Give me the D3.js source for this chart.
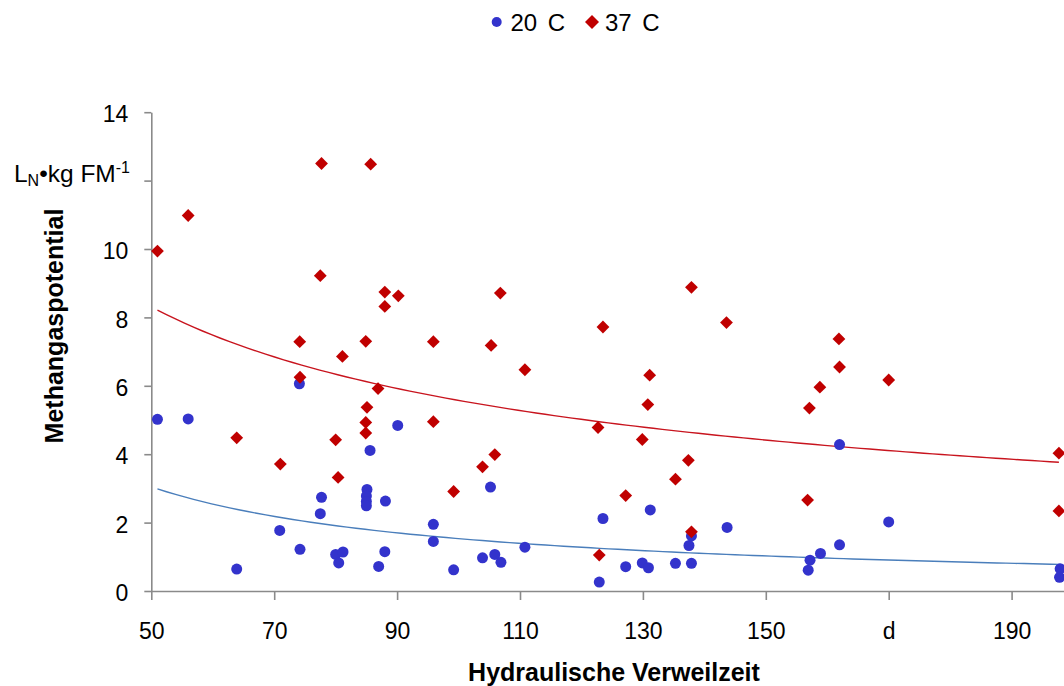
<!DOCTYPE html>
<html>
<head>
<meta charset="utf-8">
<script src="https://cdn.jsdelivr.net/npm/d3@7/dist/d3.min.js"></script>
<style>
  html, body { margin: 0; padding: 0; background: #fff; }
  svg { display: block; font-family: "Liberation Sans", Arial, sans-serif; }
</style>
</head>
<body>
<svg id="chart" width="1064" height="686"></svg>
<script>
// ---- data ----
const seriesNames = ["20 C", "37 C"];
const x20 = [51.0, 56.0, 74.1, 90.1, 85.6, 63.9, 70.9, 74.2, 77.7, 77.5, 80.0, 81.2, 80.5, 85.1, 85.0, 85.0, 85.0, 88.1, 87.0, 88.0,
             95.9, 95.9, 99.2, 105.2, 103.9, 105.9, 106.9, 110.8, 123.5, 122.9, 127.2, 129.9, 130.9, 131.2, 135.3, 137.9, 137.5, 137.9,
             143.7, 162.0, 170.0, 162.0, 158.9, 157.2, 156.9, 197.9, 197.8];
const y20 = [5.02, 5.03, 6.06, 4.84, 4.11, 0.64, 1.77, 1.22, 2.74, 2.26, 1.07, 1.14, 0.82, 2.97, 2.78, 2.62, 2.49, 2.63, 0.72, 1.15,
             1.95, 1.45, 0.62, 3.04, 0.97, 1.07, 0.84, 1.28, 2.12, 0.26, 0.71, 0.82, 0.68, 2.37, 0.81, 0.81, 1.33, 1.61,
             1.86, 4.28, 2.02, 1.35, 1.10, 0.90, 0.61, 0.65, 0.40];
const x37 = [51.0, 56.0, 77.7, 85.7, 77.5, 88.0, 90.2, 88.0, 74.15, 84.9, 81.1, 95.9, 74.2, 86.9, 85.1, 84.9, 84.9, 95.9, 63.9, 80.0,
             71.0, 80.4, 99.2, 106.8, 105.3, 110.8, 123.5, 137.9, 143.6, 131.1, 130.8, 122.7, 129.9, 105.9, 103.9, 137.4, 135.3, 127.2,
             137.9, 122.9, 161.9, 162.0, 158.8, 157.1, 170.0, 197.7, 156.8, 197.7];
const y37 = [9.94, 10.98, 12.50, 12.48, 9.22, 8.74, 8.63, 8.32, 7.29, 7.30, 6.86, 7.29, 6.25, 5.92, 5.37, 4.93, 4.62, 4.95, 4.48, 4.42,
             3.71, 3.32, 2.91, 8.71, 7.18, 6.47, 7.72, 8.88, 7.85, 6.31, 5.45, 4.78, 4.43, 3.99, 3.63, 3.82, 3.27, 2.79,
             1.73, 1.05, 7.37, 6.55, 5.96, 5.35, 6.17, 4.03, 2.66, 2.34];
const xTicks = [50, 70, 90, 110, 130, 150, 170, 190];
const xTickLabels = ["50", "70", "90", "110", "130", "150", "d", "190"];
const yTicks = [0, 2, 4, 6, 8, 10, 12, 14];
const yTickLabels = ["0", "2", "4", "6", "8", "10", "", "14"];
const xTitle = "Hydraulische Verweilzeit";
const yTitle = "Methangaspotential";

// ---- layout ----
const svg = d3.select("#chart");
const x = d3.scaleLinear().domain([50, 210]).range([151.3, 151.3 + 160 * 6.145]);
const y = d3.scaleLinear().domain([0, 14]).range([591, 112.2]);
const axisColor = "#8a8a8a";
const blue = "#3333cc", red = "#c00000";
const trendBlue = "#4a7ebb", trendRed = "#c8141e";

// axes
const gx = svg.append("g").attr("transform", `translate(0,${y(0)})`)
  .call(d3.axisBottom(x).tickValues(xTicks).tickFormat((d, i) => xTickLabels[i]).tickSize(9).tickSizeOuter(0).tickPadding(23));
const gy = svg.append("g").attr("transform", `translate(${x(50)},0)`)
  .call(d3.axisLeft(y).tickValues(yTicks).tickFormat((d, i) => yTickLabels[i]).tickSize(7).tickSizeOuter(0).tickPadding(16));
[gx, gy].forEach(g => {
  g.select(".domain").attr("stroke", axisColor).attr("stroke-width", 1.6);
  g.selectAll(".tick line").attr("stroke", axisColor).attr("stroke-width", 1.6);
  g.selectAll(".tick text").attr("fill", "#000").attr("font-size", 23)
   .attr("font-family", "'Liberation Sans', Arial, sans-serif");
});
gy.selectAll(".tick text").attr("dy", "0.42em");

// unit label in place of "12"
const unit = svg.append("text").attr("x", 130).attr("y", y(12) + 1.5)
  .attr("text-anchor", "end").attr("font-size", 24.5).attr("fill", "#000");
unit.append("tspan").text("L");
unit.append("tspan").attr("font-size", 16).attr("dy", 4).text("N");
unit.append("tspan").attr("dy", -4).text("•kg FM");
unit.append("tspan").attr("font-size", 16).attr("dy", -9).text("-1");

// axis titles
svg.append("text").attr("x", 614).attr("y", 680.5).attr("text-anchor", "middle")
  .attr("font-size", 25).attr("font-weight", "bold").text(xTitle);
svg.append("text").attr("transform", `translate(63,326) rotate(-90)`).attr("text-anchor", "middle")
  .attr("font-size", 25).attr("font-weight", "bold").text(yTitle);

// power trendlines (least squares in log-log space)
function powerFit(xs, ys) {
  const lx = xs.map(Math.log), ly = ys.map(Math.log);
  const mx = d3.mean(lx), my = d3.mean(ly);
  let sxy = 0, sxx = 0;
  for (let i = 0; i < lx.length; i++) { sxy += (lx[i] - mx) * (ly[i] - my); sxx += (lx[i] - mx) ** 2; }
  const b = sxy / sxx, a = Math.exp(my - b * mx);
  return v => a * Math.pow(v, b);
}
function drawTrend(xs, ys, color) {
  const f = powerFit(xs, ys);
  const [x0, x1] = d3.extent(xs);
  const pts = d3.range(0, 101).map(i => x0 + (x1 - x0) * i / 100);
  svg.append("path").datum(pts)
    .attr("d", d3.line().x(v => x(v)).y(v => y(f(v))))
    .attr("fill", "none").attr("stroke", color).attr("stroke-width", 1.4);
}
drawTrend(x20, y20, trendBlue);
drawTrend(x37, y37, trendRed);

// markers
const diamond = s => `M0,${-s}L${s},0L0,${s}L${-s},0Z`;
svg.append("g").selectAll("circle").data(d3.range(x20.length)).join("circle")
  .attr("cx", i => x(x20[i])).attr("cy", i => y(y20[i])).attr("r", 5.5).attr("fill", blue);
svg.append("g").selectAll("path").data(d3.range(x37.length)).join("path")
  .attr("transform", i => `translate(${x(x37[i])},${y(y37[i])})`).attr("d", diamond(6.4)).attr("fill", red);

// legend
const lg = svg.append("g").attr("font-size", 24).attr("word-spacing", 4);
lg.append("circle").attr("cx", 496.7).attr("cy", 22).attr("r", 5).attr("fill", blue);
lg.append("text").attr("x", 510.5).attr("y", 31).text(seriesNames[0]);
lg.append("path").attr("transform", "translate(592,22)").attr("d", diamond(7)).attr("fill", red);
lg.append("text").attr("x", 605).attr("y", 31).text(seriesNames[1]);
</script>
</body>
</html>
